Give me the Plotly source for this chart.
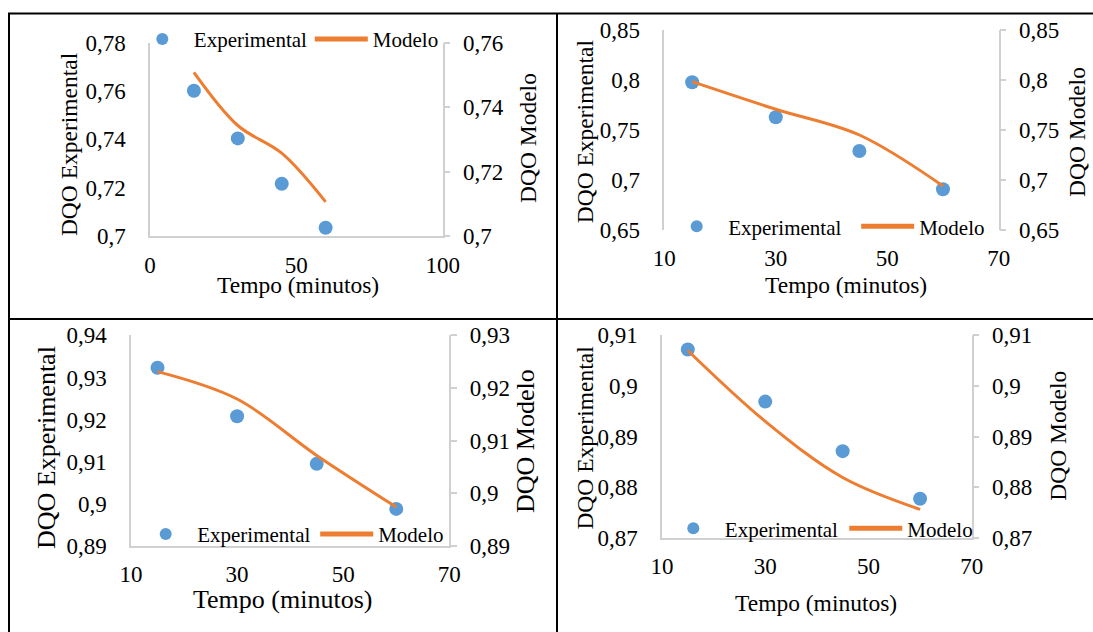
import plotly.graph_objects as go

W, H = 1093, 632

# ---------------- data ----------------
tempo = [15, 30, 45, 60]

exp1 = [0.7601, 0.7404, 0.7216, 0.7034]
mod1 = [0.7508, 0.7343, 0.7257, 0.7106]

exp2 = [0.7977, 0.7627, 0.7290, 0.6907]
mod2 = [0.7983, 0.7707, 0.7450, 0.6940]

exp3 = [0.9323, 0.9208, 0.9095, 0.8988]
mod3 = [0.9231, 0.9179, 0.9072, 0.8974]

exp4 = [0.9072, 0.8969, 0.8871, 0.8777]
mod4 = [0.9070, 0.8930, 0.8819, 0.8756]

x1_ticks = [0, 50, 100]
x_ticks = [10, 30, 50, 70]

yl1_vals = [0.70, 0.72, 0.74, 0.76, 0.78]
yl1_text = ["0,7", "0,72", "0,74", "0,76", "0,78"]
yr1_vals = [0.70, 0.72, 0.74, 0.76]
yr1_text = ["0,7", "0,72", "0,74", "0,76"]

y2_vals = [0.65, 0.70, 0.75, 0.80, 0.85]
y2_text = ["0,65", "0,7", "0,75", "0,8", "0,85"]

yl3_vals = [0.89, 0.90, 0.91, 0.92, 0.93, 0.94]
yl3_text = ["0,89", "0,9", "0,91", "0,92", "0,93", "0,94"]
yr3_vals = [0.89, 0.90, 0.91, 0.92, 0.93]
yr3_text = ["0,89", "0,9", "0,91", "0,92", "0,93"]

y4_vals = [0.87, 0.88, 0.89, 0.90, 0.91]
y4_text = ["0,87", "0,88", "0,89", "0,9", "0,91"]

# ---------------- style ----------------
FONT = "Liberation Serif, 'Times New Roman', Times, serif"
BLUE = "#5B9BD5"
ORANGE = "#ED7D31"
GRAY = "#D0D0D0"


def px(x):
    return x / W


def py(y):
    return 1 - y / H


fig = go.Figure()

panels = [
    # (exp, mod, xaxis, yleft, yright, legend)
    (exp1, mod1, "x", "y", "y2", "legend"),
    (exp2, mod2, "x2", "y3", "y4", "legend2"),
    (exp3, mod3, "x3", "y5", "y6", "legend3"),
    (exp4, mod4, "x4", "y7", "y8", "legend4"),
]
for e, m, xa, yl, yr, lg in panels:
    fig.add_trace(go.Scatter(x=tempo, y=e, mode="markers", name="Experimental",
                             marker=dict(color=BLUE, size=14),
                             xaxis=xa, yaxis=yl, legend=lg))
    fig.add_trace(go.Scatter(x=tempo, y=m, mode="lines", name="Modelo",
                             line=dict(color=ORANGE, width=3, shape="spline"),
                             xaxis=xa, yaxis=yr, legend=lg))

tickfont = dict(family=FONT, size=23, color="black")


def xaxis(dom, rng, vals, anchor, standoff, showline=True):
    return dict(domain=[px(dom[0]), px(dom[1])], range=rng, tickvals=vals,
                ticktext=[str(v) for v in vals], showgrid=False, zeroline=False,
                showline=showline, linecolor=GRAY, linewidth=1.5, ticks="",
                ticklabelstandoff=standoff, tickfont=tickfont, anchor=anchor,
                fixedrange=True)


def yleft(dom, rng, vals, text, anchor):
    return dict(domain=[py(dom[1]), py(dom[0])], range=rng, tickvals=vals,
                ticktext=text, showgrid=False, zeroline=False, showline=True,
                linecolor=GRAY, linewidth=1.5, ticks="", ticklabelstandoff=18,
                tickfont=tickfont, anchor=anchor, fixedrange=True)


def yright(rng, vals, text, anchor, over):
    return dict(range=rng, tickvals=vals, ticktext=text, showgrid=False,
                zeroline=False, showline=True, linecolor=GRAY, linewidth=1.5,
                ticks="outside", ticklen=6, tickcolor=GRAY, tickwidth=1.5,
                ticklabelstandoff=8, tickfont=tickfont, anchor=anchor,
                overlaying=over, side="right", fixedrange=True)


# panel pixel boxes: (x0, x1), (ytop, ybottom)
P1 = ((150, 442.7), (42.7, 236))
P2 = ((664.3, 998.7), (30, 230))
P3 = ((131, 449.3), (335.3, 546))
P4 = ((662, 971.7), (335.3, 537.7))

fig.update_layout(
    xaxis=xaxis(P1[0], [0, 100], x1_ticks, "y", 8),
    yaxis=yleft(P1[1], [0.70, 0.78], yl1_vals, yl1_text, "x"),
    yaxis2=yright([0.70, 0.76], yr1_vals, yr1_text, "x", "y"),
    xaxis2=xaxis(P2[0], [10, 70], x_ticks, "y3", 12, showline=False),
    yaxis3=yleft(P2[1], [0.65, 0.85], y2_vals, y2_text, "x2"),
    yaxis4=yright([0.65, 0.85], y2_vals, y2_text, "x2", "y3"),
    xaxis3=xaxis(P3[0], [10, 70], x_ticks, "y5", 7),
    yaxis5=yleft(P3[1], [0.89, 0.94], yl3_vals, yl3_text, "x3"),
    yaxis6=yright([0.89, 0.93], yr3_vals, yr3_text, "x3", "y5"),
    xaxis4=xaxis(P4[0], [10, 70], x_ticks, "y7", 7),
    yaxis7=yleft(P4[1], [0.87, 0.91], y4_vals, y4_text, "x4"),
    yaxis8=yright([0.87, 0.91], y4_vals, y4_text, "x4", "y7"),
)

legfont = dict(family=FONT, size=21, color="black")


def legend(x, y, ew):
    return dict(x=px(x), y=py(y), xanchor="left", yanchor="middle",
                orientation="h", font=legfont, itemwidth=53, entrywidth=ew,
                entrywidthmode="pixels", bgcolor="rgba(0,0,0,0)",
                itemsizing="constant", itemclick=False, itemdoubleclick=False)


fig.update_layout(
    legend=legend(130.8, 39.3, 111),
    legend2=legend(665.2, 226.7, 123),
    legend3=legend(134.2, 534.3, 113),
    legend4=legend(661.8, 528.7, 114.5),
)

# axis titles
titles = [
    ("DQO Experimental", 68.3, 143.8, 23.5, -90),
    ("DQO Modelo", 528.5, 138.5, 23.5, -90),
    ("Tempo (minutos)", 297.5, 285, 23.5, 0),
    ("DQO Experimental", 585.3, 131, 23.5, -90),
    ("DQO Modelo", 1077, 132, 23.5, -90),
    ("Tempo (minutos)", 845.8, 285, 23.5, 0),
    ("DQO Experimental", 46.7, 447.3, 26, -90),
    ("DQO Modelo", 525, 441, 26, -90),
    ("Tempo (minutos)", 282, 599.3, 26, 0),
    ("DQO Experimental", 585.3, 437.3, 23.5, -90),
    ("DQO Modelo", 1057.7, 436, 23.5, -90),
    ("Tempo (minutos)", 815.7, 603.3, 23.5, 0),
]
for t, x, y, s, a in titles:
    fig.add_annotation(text=t, x=px(x), y=py(y), xref="paper", yref="paper",
                       xanchor="center", yanchor="middle", showarrow=False,
                       textangle=a, font=dict(family=FONT, size=s, color="black"))

# table borders
borders = [
    (8, 13.5, W, 13.5),
    (9, 13, 9, H),
    (557, 13, 557, H),
    (8, 319, W, 319),
]
for x0, y0, x1, y1 in borders:
    fig.add_shape(type="line", xref="paper", yref="paper",
                  x0=px(x0), y0=py(y0), x1=px(x1), y1=py(y1),
                  line=dict(color="black", width=2))

fig.update_layout(width=W, height=H, autosize=False,
                  margin=dict(l=0, r=0, t=0, b=0, pad=0, autoexpand=False),
                  paper_bgcolor="white", plot_bgcolor="white",
                  font=dict(family=FONT, color="black"),
                  separators=", ")

fig.write_html("out.html", config={"displayModeBar": False})
